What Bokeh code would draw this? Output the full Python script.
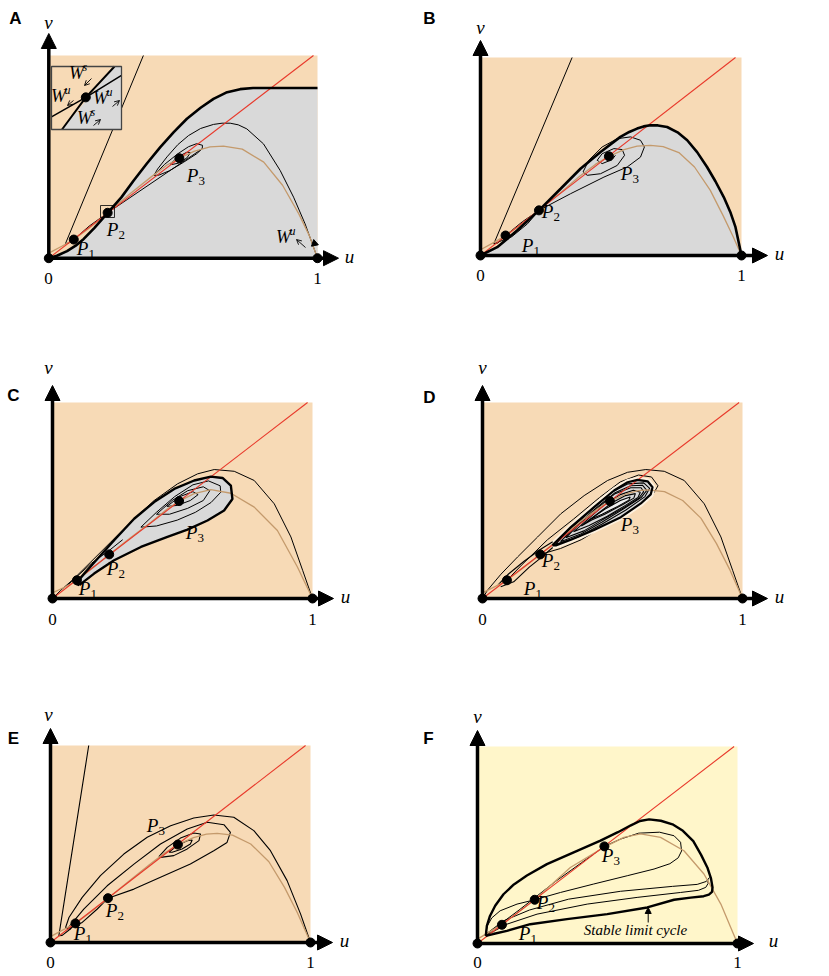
from bokeh.plotting import figure
from bokeh.layouts import column, row
from bokeh.models import Range1d, Arrow, NormalHead, OpenHead
from bokeh.core.properties import value
from bokeh.embed import file_html
from bokeh.resources import INLINE

# ====================== DATA (u, v phase-plane values) ======================
# ---- Panel A ----
A_fixed_u = [0.0, 0.093, 0.219, 0.486, 1.0]
A_fixed_v = [0.0, 0.092, 0.224, 0.493, 0.0]
A_red_u = [0.0, 0.985]
A_red_v = [0.0, 1.0]
A_bound_u = [0.0, 0.03, 0.068, 0.10, 0.130, 0.17, 0.219, 0.27, 0.316, 0.365, 0.415, 0.465, 0.514, 0.565, 0.613,
             0.66, 0.712, 0.76, 0.812, 1.0]
A_bound_v = [0.0, 0.012, 0.035, 0.062, 0.095, 0.15, 0.224, 0.30, 0.383, 0.467, 0.548, 0.622, 0.688, 0.742, 0.786,
             0.817, 0.834, 0.840, 0.840, 0.840]
A_tan_u = [0.0, 0.05, 0.093, 0.15, 0.219, 0.30, 0.38, 0.44, 0.486, 0.54, 0.60, 0.65, 0.72, 0.80, 0.87, 0.93, 0.97, 1.0]
A_tan_v = [0.025, 0.06, 0.092, 0.148, 0.224, 0.315, 0.40, 0.46, 0.493, 0.527, 0.549, 0.553, 0.538, 0.474, 0.36, 0.22, 0.11, 0.0]
A_sep_u = [0.352, 0.062, 0.075, 0.093, 0.15, 0.219]
A_sep_v = [1.0, 0.072, 0.075, 0.092, 0.158, 0.224]
A_wu_u = [1.0, 0.983, 0.954, 0.911, 0.861, 0.799, 0.737, 0.705, 0.675, 0.645, 0.613, 0.565, 0.52, 0.48, 0.44, 0.405, 0.391]
A_wu_v = [0.0, 0.0625, 0.169, 0.301, 0.433, 0.564, 0.638, 0.658, 0.666, 0.666, 0.660, 0.640, 0.605, 0.56, 0.50, 0.44, 0.408]
A_ring1_u = [0.391, 0.43, 0.48, 0.52, 0.55, 0.572, 0.571, 0.55, 0.50, 0.45, 0.41, 0.391]
A_ring1_v = [0.408, 0.462, 0.515, 0.550, 0.565, 0.557, 0.540, 0.515, 0.472, 0.432, 0.410, 0.408]
A_ring2_u = [0.452, 0.483, 0.514, 0.527, 0.514, 0.483, 0.458, 0.452]
A_ring2_v = [0.465, 0.502, 0.523, 0.521, 0.495, 0.469, 0.462, 0.465]
A_link_u = [0.219, 0.571]
A_link_v = [0.224, 0.540]

# ---- Panel B ----
B_fixed_u = [0.0, 0.096, 0.224, 0.492, 1.0]
B_fixed_v = [0.0, 0.101, 0.228, 0.501, 0.0]
B_red_u = [0.0, 0.977]
B_red_v = [0.0, 1.0]
B_bound_u = [0.0, 0.064, 0.140, 0.224, 0.307, 0.383, 0.460, 0.536, 0.570, 0.600, 0.625, 0.651, 0.680, 0.715,
             0.755, 0.792, 0.830, 0.868, 0.900, 0.932, 0.957, 0.977, 1.0]
B_bound_v = [0.0, 0.042, 0.126, 0.228, 0.337, 0.438, 0.523, 0.599, 0.624, 0.641, 0.652, 0.658, 0.657, 0.649,
             0.622, 0.582, 0.522, 0.447, 0.375, 0.295, 0.220, 0.143, 0.0]
B_tan_u = [0.0, 0.05, 0.096, 0.16, 0.224, 0.30, 0.38, 0.44, 0.492, 0.55, 0.60, 0.651, 0.70, 0.76, 0.82, 0.88, 0.93, 0.97, 1.0]
B_tan_v = [0.029, 0.065, 0.101, 0.16, 0.228, 0.31, 0.40, 0.46, 0.501, 0.535, 0.552, 0.556, 0.55, 0.52, 0.447, 0.33, 0.20, 0.09, 0.0]
B_sep_u = [0.351, 0.051, 0.065, 0.096, 0.16, 0.224]
B_sep_v = [1.0, 0.059, 0.062, 0.101, 0.17, 0.228]
B_lens_u = [0.051, 0.12, 0.18, 0.224]
B_lens_v = [0.059, 0.095, 0.16, 0.228]
B_spiral_u = [0.224, 0.345, 0.473, 0.562, 0.613, 0.628, 0.613, 0.575, 0.524, 0.466, 0.415, 0.393, 0.409, 0.460,
              0.524, 0.552, 0.543, 0.511, 0.466, 0.447, 0.466, 0.504, 0.517]
B_spiral_v = [0.228, 0.312, 0.396, 0.447, 0.497, 0.548, 0.582, 0.599, 0.590, 0.548, 0.481, 0.422, 0.405, 0.413,
              0.455, 0.506, 0.535, 0.540, 0.514, 0.481, 0.464, 0.484, 0.506]

# ---- Panel C ----
C_fixed_u = [0.0, 0.094, 0.218, 0.487, 1.0]
C_fixed_v = [0.0, 0.093, 0.225, 0.497, 0.0]
C_red_u = [0.0, 0.981]
C_red_v = [0.0, 1.0]
C_tan_u = [0.0, 0.05, 0.094, 0.15, 0.218, 0.30, 0.38, 0.44, 0.487, 0.545, 0.609, 0.686, 0.776, 0.865, 0.942, 1.0]
C_tan_v = [0.029, 0.06, 0.093, 0.15, 0.225, 0.31, 0.39, 0.455, 0.497, 0.535, 0.556, 0.537, 0.466, 0.347, 0.161, 0.0]
C_outer_u = [1.0, 0.962, 0.917, 0.853, 0.776, 0.699, 0.622, 0.558, 0.481, 0.391, 0.314, 0.224, 0.147, 0.083, 0.032, 0.0]
C_outer_v = [0.0, 0.144, 0.314, 0.483, 0.602, 0.649, 0.658, 0.636, 0.585, 0.500, 0.407, 0.288, 0.186, 0.102, 0.042, 0.0]
C_tear_u = [0.103, 0.160, 0.237, 0.340, 0.442, 0.519, 0.596, 0.660, 0.692, 0.686, 0.654, 0.609, 0.545, 0.468,
            0.391, 0.314, 0.237, 0.173, 0.122, 0.090, 0.103]
C_tear_v = [0.068, 0.127, 0.195, 0.263, 0.314, 0.351, 0.398, 0.449, 0.508, 0.576, 0.615, 0.622, 0.602, 0.559,
            0.492, 0.407, 0.297, 0.203, 0.127, 0.076, 0.068]
C_loop1_u = [0.340, 0.40, 0.47, 0.54, 0.60, 0.645, 0.647, 0.61, 0.55, 0.48, 0.40, 0.340]
C_loop1_v = [0.364, 0.44, 0.52, 0.58, 0.60, 0.575, 0.542, 0.49, 0.44, 0.40, 0.37, 0.364]
C_loop2_u = [0.40, 0.46, 0.52, 0.58, 0.605, 0.58, 0.52, 0.45, 0.40]
C_loop2_v = [0.43, 0.50, 0.55, 0.57, 0.55, 0.50, 0.46, 0.43, 0.43]
C_loop3_u = [0.44, 0.49, 0.54, 0.56, 0.53, 0.48, 0.44]
C_loop3_v = [0.47, 0.52, 0.545, 0.53, 0.50, 0.475, 0.47]
C_lens_u = [0.06, 0.094, 0.15, 0.218, 0.27]
C_lens_v = [0.07, 0.112, 0.18, 0.245, 0.30]

# ---- Panel D ----
D_fixed_u = [0.0, 0.094, 0.222, 0.490, 1.0]
D_fixed_v = [0.0, 0.093, 0.225, 0.497, 0.0]
D_red_u = [0.0, 0.987]
D_red_v = [0.0, 1.0]
D_tan_u = [0.0, 0.05, 0.094, 0.16, 0.222, 0.30, 0.38, 0.44, 0.490, 0.55, 0.60, 0.635, 0.70, 0.77, 0.84, 0.90, 0.95, 1.0]
D_tan_v = [0.029, 0.062, 0.093, 0.16, 0.225, 0.31, 0.395, 0.455, 0.497, 0.532, 0.55, 0.554, 0.545, 0.50, 0.41, 0.28, 0.15, 0.0]
D_outer_u = [1.0, 0.962, 0.917, 0.853, 0.776, 0.699, 0.628, 0.558, 0.481, 0.391, 0.301, 0.212, 0.135, 0.071, 0.019, 0.0]
D_outer_v = [0.0, 0.144, 0.314, 0.483, 0.602, 0.649, 0.658, 0.644, 0.602, 0.525, 0.432, 0.314, 0.212, 0.124, 0.042, 0.0]
D_wrap_u = [0.094, 0.15, 0.25, 0.35, 0.45, 0.53, 0.60, 0.65, 0.675, 0.655, 0.58, 0.48, 0.38, 0.30, 0.222]
D_wrap_v = [0.093, 0.17, 0.30, 0.405, 0.515, 0.595, 0.63, 0.62, 0.575, 0.53, 0.46, 0.38, 0.30, 0.255, 0.225]
D_tear_u = [0.269, 0.340, 0.429, 0.506, 0.558, 0.596, 0.635, 0.654, 0.647, 0.609, 0.532, 0.429, 0.340, 0.282, 0.269]
D_tear_v = [0.271, 0.364, 0.466, 0.551, 0.593, 0.605, 0.598, 0.568, 0.531, 0.485, 0.415, 0.350, 0.300, 0.271, 0.271]
D_loop1_u = [0.28, 0.35, 0.43, 0.50, 0.56, 0.62, 0.643, 0.625, 0.55, 0.46, 0.37, 0.28]
D_loop1_v = [0.275, 0.37, 0.465, 0.545, 0.585, 0.59, 0.562, 0.52, 0.45, 0.38, 0.315, 0.275]
D_loop2_u = [0.30, 0.36, 0.44, 0.51, 0.57, 0.615, 0.632, 0.61, 0.54, 0.46, 0.38, 0.30]
D_loop2_v = [0.29, 0.37, 0.465, 0.54, 0.575, 0.578, 0.552, 0.515, 0.455, 0.39, 0.33, 0.29]
D_loop3_u = [0.32, 0.38, 0.45, 0.51, 0.57, 0.61, 0.62, 0.60, 0.54, 0.46, 0.39, 0.32]
D_loop3_v = [0.31, 0.39, 0.47, 0.535, 0.565, 0.565, 0.545, 0.51, 0.46, 0.40, 0.345, 0.31]
D_loop4_u = [0.35, 0.41, 0.47, 0.53, 0.58, 0.607, 0.598, 0.55, 0.48, 0.41, 0.35]
D_loop4_v = [0.34, 0.41, 0.48, 0.53, 0.552, 0.542, 0.515, 0.475, 0.42, 0.372, 0.34]
D_loop5_u = [0.38, 0.44, 0.50, 0.55, 0.588, 0.582, 0.54, 0.47, 0.42, 0.38]
D_loop5_v = [0.37, 0.43, 0.49, 0.525, 0.535, 0.512, 0.48, 0.43, 0.40, 0.37]
D_loop6_u = [0.41, 0.47, 0.53, 0.568, 0.563, 0.52, 0.46, 0.41]
D_loop6_v = [0.40, 0.455, 0.50, 0.518, 0.502, 0.47, 0.43, 0.40]
D_lensU_u = [0.06, 0.10, 0.16, 0.222, 0.27]
D_lensU_v = [0.07, 0.125, 0.19, 0.25, 0.29]
D_lensL_u = [0.07, 0.12, 0.18, 0.222, 0.27]
D_lensL_v = [0.06, 0.085, 0.16, 0.205, 0.26]

# ---- Panel E ----
E_fixed_u = [0.0, 0.096, 0.221, 0.490, 1.0]
E_fixed_v = [0.0, 0.097, 0.225, 0.497, 0.0]
E_red_u = [0.0, 0.981]
E_red_v = [0.0, 1.0]
E_tan_u = [0.0, 0.05, 0.096, 0.16, 0.221, 0.30, 0.38, 0.44, 0.490, 0.55, 0.60, 0.641, 0.70, 0.77, 0.84, 0.90, 0.95, 1.0]
E_tan_v = [0.03, 0.065, 0.097, 0.16, 0.225, 0.31, 0.395, 0.455, 0.497, 0.532, 0.55, 0.554, 0.545, 0.50, 0.41, 0.28, 0.15, 0.0]
E_sep_u = [0.147, 0.032, 0.045, 0.070, 0.096]
E_sep_v = [1.0, 0.034, 0.036, 0.062, 0.097]
E_outer_u = [1.0, 0.962, 0.910, 0.846, 0.782, 0.705, 0.628, 0.551, 0.462, 0.372, 0.282, 0.192, 0.122, 0.071, 0.058, 0.075, 0.096]
E_outer_v = [0.0, 0.144, 0.314, 0.466, 0.568, 0.636, 0.647, 0.632, 0.593, 0.534, 0.449, 0.339, 0.229, 0.127, 0.076, 0.066, 0.097]
E_loop_u = [0.064, 0.128, 0.218, 0.321, 0.423, 0.526, 0.603, 0.667, 0.692, 0.679, 0.628, 0.538, 0.423, 0.321, 0.221]
E_loop_v = [0.068, 0.169, 0.288, 0.398, 0.500, 0.576, 0.610, 0.598, 0.559, 0.508, 0.466, 0.398, 0.331, 0.271, 0.225]
E_ring1_u = [0.417, 0.449, 0.500, 0.551, 0.577, 0.571, 0.526, 0.474, 0.423, 0.417]
E_ring1_v = [0.436, 0.483, 0.530, 0.556, 0.551, 0.517, 0.475, 0.441, 0.432, 0.436]
E_ring2_u = [0.455, 0.487, 0.526, 0.545, 0.538, 0.506, 0.468, 0.455]
E_ring2_v = [0.458, 0.492, 0.517, 0.520, 0.500, 0.475, 0.458, 0.458]
E_lensL_u = [0.064, 0.12, 0.18, 0.221]
E_lensL_v = [0.068, 0.10, 0.17, 0.225]

# ---- Panel F ----
F_fixed_u = [0.0, 0.094, 0.220, 0.488, 1.0]
F_fixed_v = [0.0, 0.095, 0.222, 0.493, 0.0]
F_red_u = [0.0, 0.987]
F_red_v = [0.0, 1.0]
F_tan_u = [0.0, 0.100, 0.220, 0.357, 0.486, 0.563, 0.627, 0.704, 0.794, 0.871, 0.936, 0.974, 1.0]
F_tan_v = [0.022, 0.102, 0.222, 0.386, 0.488, 0.539, 0.556, 0.539, 0.471, 0.353, 0.200, 0.081, 0.0]
F_cycle_u = [0.032, 0.036, 0.048, 0.068, 0.100, 0.140, 0.190, 0.267, 0.370, 0.473, 0.540, 0.590, 0.625, 0.660,
             0.705, 0.750, 0.790, 0.830, 0.860, 0.884, 0.898, 0.904, 0.902, 0.890, 0.870, 0.820, 0.756, 0.653,
             0.499, 0.344, 0.203, 0.113, 0.060, 0.032]
F_cycle_v = [0.039, 0.090, 0.140, 0.192, 0.250, 0.300, 0.345, 0.403, 0.463, 0.522, 0.565, 0.600, 0.622, 0.630,
             0.623, 0.605, 0.572, 0.520, 0.450, 0.386, 0.330, 0.285, 0.262, 0.248, 0.240, 0.233, 0.222, 0.183,
             0.149, 0.124, 0.098, 0.064, 0.048, 0.039]
F_t1_u = [0.220, 0.319, 0.447, 0.576, 0.679, 0.740, 0.772, 0.785, 0.781, 0.756, 0.70, 0.62, 0.55, 0.488]
F_t1_v = [0.222, 0.259, 0.302, 0.344, 0.378, 0.405, 0.435, 0.470, 0.514, 0.547, 0.565, 0.56, 0.53, 0.493]
F_t2_u = [0.220, 0.152, 0.087, 0.055, 0.038, 0.030]
F_t2_v = [0.222, 0.200, 0.166, 0.130, 0.090, 0.047]
F_t3_u = [0.030, 0.113, 0.229, 0.422, 0.614, 0.781, 0.850, 0.878, 0.887, 0.885]
F_t3_v = [0.039, 0.098, 0.149, 0.200, 0.234, 0.259, 0.270, 0.285, 0.305, 0.327]
F_t4_u = [0.030, 0.094, 0.16, 0.220, 0.30, 0.40, 0.488]
F_t4_v = [0.039, 0.105, 0.17, 0.232, 0.315, 0.41, 0.493]
F_t5_u = [0.030, 0.10, 0.20, 0.35, 0.55, 0.75, 0.845, 0.880, 0.892]
F_t5_v = [0.045, 0.115, 0.17, 0.225, 0.265, 0.29, 0.300, 0.315, 0.335]

# Inset of panel A (local 0..1 box coordinates)
INSET_gray_x = [0.15, 0.90, 1.0, 1.0]
INSET_gray_y = [0.0, 1.0, 1.0, 0.0]
INSET_ws_x = [0.15, 0.49, 0.90]
INSET_ws_y = [0.0, 0.51, 1.0]
INSET_wu_x = [0.0, 0.49, 1.0]
INSET_wu_y = [0.20, 0.51, 0.86]

# ====================== LAYOUT ======================
PEACH = "#F7DAB6"
YELLOW = "#FFF6CA"
GRAY = "#D9D9D9"
RED = "#E8392B"
TAN = "#C49A6C"
SERIF = "Liberation Serif"
SANS = "Liberation Sans"

# figure placement on the page (x, y, w, h) in reference pixels
FIG = {'A': (0, 0, 418, 348), 'B': (418, 0, 411, 348),
       'C': (0, 348, 418, 338), 'D': (418, 348, 411, 338),
       'E': (0, 686, 418, 290), 'F': (418, 686, 411, 290)}
# panel geometry: pixel of origin, pixel width of u=1, pixel height of v=1
GEOM = {'A': (48.3, 257.7, 268.7, 202.7), 'B': (480, 255, 261, 198),
        'C': (52, 598, 260, 196), 'D': (482, 598, 260, 196),
        'E': (50, 942, 260, 197), 'F': (477, 943, 260, 197)}
# decoration positions (pixels)
DECO = {
    'A': dict(vtip=33, utip=338, vlab=(48, 22), ulab=(349, 256), zero=(48, 278), one=(317, 278), letter=(15, 18),
              P=[(86, 248), (116, 229), (196, 175)]),
    'B': dict(vtip=40, utip=767, vlab=(480, 27), ulab=(779, 253), zero=(480, 275), one=(741, 275), letter=(429, 18),
              P=[(531, 245), (551, 211), (630, 173)]),
    'C': dict(vtip=385, utip=333, vlab=(48, 367), ulab=(345, 596), zero=(52, 619), one=(312, 619), letter=(13, 395),
              P=[(88, 588), (116, 568), (195, 532)]),
    'D': dict(vtip=385, utip=767, vlab=(482, 367), ulab=(779, 596), zero=(482, 619), one=(742, 619), letter=(429, 397),
              P=[(533, 588), (551, 560), (630, 524)]),
    'E': dict(vtip=728, utip=332, vlab=(48, 714), ulab=(344, 940), zero=(50, 962), one=(310, 962), letter=(13, 738),
              P=[(83, 933), (115, 910), (156, 825)]),
    'F': dict(vtip=730, utip=753, vlab=(477, 716), ulab=(773, 940), zero=(477, 962), one=(737, 962), letter=(428, 738),
              P=[(528, 933), (546, 902), (611, 855)]),
}


def to_uv(key, x, y):
    ox, oy, W, H = GEOM[key]
    return (x - ox) / W, (oy - y) / H


def make_fig(key, bg):
    fx, fy, fw, fh = FIG[key]
    ox, oy, W, H = GEOM[key]
    p = figure(width=fw, height=fh,
               x_range=Range1d((fx - ox) / W, (fx + fw - ox) / W),
               y_range=Range1d((oy - fy - fh) / H, (oy - fy) / H),
               x_axis_type=None, y_axis_type=None, toolbar_location=None,
               output_backend="svg", min_border=0, outline_line_color=None)
    p.background_fill_color = "white"
    p.border_fill_color = "white"
    p.quad(left=0, right=1, bottom=0, top=1, fill_color=bg, line_color=None)
    return p


def txt(p, key, x, y, s, size="16px", font=SERIF, style="normal", align="center", xo=0, yo=0):
    u, v = to_uv(key, x, y)
    p.text(x=[u], y=[v], text=[s], text_font=value(font), text_font_size=size, text_font_style=style,
           text_align=align, text_baseline="middle", x_offset=xo, y_offset=yo, text_color="black")


def sub_label(p, key, x, y, main, sub, size=19, sup=False):
    txt(p, key, x - 4, y, main, size="%dpx" % size, style="italic", align="center")
    txt(p, key, x + 2, y + (-6 if sup else 5), sub, size="%dpx" % int(size * 0.7),
        style="italic" if sup else "normal", align="left")


def nullclines(p, red_u, red_v, tan_u, tan_v):
    p.line(tan_u, tan_v, line_color=TAN, line_width=1.3)
    p.line(red_u, red_v, line_color=RED, line_width=1.1)


def axes_and_labels(p, key, fixed_u, fixed_v):
    d = DECO[key]
    ox, oy, W, H = GEOM[key]
    ut = (d['utip'] - ox) / W
    vt = (oy - d['vtip']) / H
    p.add_layout(Arrow(end=NormalHead(size=15, fill_color="black", line_color="black", line_width=1),
                       x_start=0, y_start=0, x_end=ut, y_end=0, line_width=3.5, line_color="black"))
    p.add_layout(Arrow(end=NormalHead(size=15, fill_color="black", line_color="black", line_width=1),
                       x_start=0, y_start=0, x_end=0, y_end=vt, line_width=3.5, line_color="black"))
    p.scatter(fixed_u, fixed_v, size=9, color="black")
    txt(p, key, *d['vlab'], "v", size="19px", style="italic")
    txt(p, key, *d['ulab'], "u", size="19px", style="italic")
    txt(p, key, *d['zero'], "0", size="17px")
    txt(p, key, *d['one'], "1", size="17px")
    txt(p, key, *d['letter'], key, size="17px", font=SANS, style="bold")
    for i, (x, y) in enumerate(d['P']):
        sub_label(p, key, x, y, "P", str(i + 1))


# ---------------- Panel A ----------------
pA = make_fig('A', PEACH)
pA.patch(A_bound_u + [1.0, 0.0], A_bound_v + [0.0, 0.0], fill_color=GRAY, line_color=None)
pA.line(A_sep_u, A_sep_v, line_color="black", line_width=1)
pA.line(A_wu_u, A_wu_v, line_color="black", line_width=1)
pA.line(A_ring1_u, A_ring1_v, line_color="black", line_width=1)
pA.line(A_ring2_u, A_ring2_v, line_color="black", line_width=1)
pA.line(A_link_u, A_link_v, line_color="black", line_width=1)
nullclines(pA, A_red_u, A_red_v, A_tan_u, A_tan_v)
pA.line(A_bound_u, A_bound_v, line_color="black", line_width=2.6)
# small box around P2
b0 = to_uv('A', 100, 217)
b1 = to_uv('A', 114, 205)
pA.quad(left=b0[0], right=b1[0], bottom=b0[1], top=b1[1], fill_color=None, line_color="black", line_width=0.8)
# inset
i0 = to_uv('A', 51, 129)
i1 = to_uv('A', 121, 66)


def inset_map(xs, ys):
    return ([i0[0] + x * (i1[0] - i0[0]) for x in xs], [i0[1] + y * (i1[1] - i0[1]) for y in ys])


pA.quad(left=i0[0], right=i1[0], bottom=i0[1], top=i1[1], fill_color=PEACH, line_color=None)
gx, gy = inset_map(INSET_gray_x, INSET_gray_y)
pA.patch(gx, gy, fill_color=GRAY, line_color=None)
wx, wy = inset_map(INSET_ws_x, INSET_ws_y)
pA.line(wx, wy, line_color="black", line_width=2)
wx2, wy2 = inset_map(INSET_wu_x, INSET_wu_y)
pA.line(wx2, wy2, line_color="black", line_width=1.5)
dx, dy = inset_map([0.49], [0.51])
pA.scatter(dx, dy, size=9, color="black")
pA.quad(left=i0[0], right=i1[0], bottom=i0[1], top=i1[1], fill_color=None, line_color="#444444", line_width=1.3)
sub_label(pA, 'A', 80, 72, "W", "s", size=18, sup=True)
sub_label(pA, 'A', 62, 95, "W", "u", size=18, sup=True)
sub_label(pA, 'A', 104, 97, "W", "u", size=18, sup=True)
sub_label(pA, 'A', 88, 117, "W", "s", size=18, sup=True)
for (xs, ys, xe, ye) in [(91, 78, 84, 85), (73, 100, 67, 105), (112, 106, 119, 100), (93, 125, 100, 119),
                         (305, 247, 296, 239)]:
    s = to_uv('A', xs, ys)
    e = to_uv('A', xe, ye)
    pA.add_layout(Arrow(end=OpenHead(size=5, line_width=0.9), x_start=s[0], y_start=s[1], x_end=e[0], y_end=e[1],
                        line_width=0.9))
sub_label(pA, 'A', 287, 236, "W", "u", size=18, sup=True)
ah = to_uv('A', 314, 243)
pA.scatter([ah[0]], [ah[1]], marker="triangle", size=7, color="black", angle=0.2)
axes_and_labels(pA, 'A', A_fixed_u, A_fixed_v)

# ---------------- Panel B ----------------
pB = make_fig('B', PEACH)
pB.patch(B_bound_u, B_bound_v, fill_color=GRAY, line_color=None)
pB.line(B_sep_u, B_sep_v, line_color="black", line_width=1)
pB.line(B_lens_u, B_lens_v, line_color="black", line_width=1)
pB.line(B_spiral_u, B_spiral_v, line_color="black", line_width=1)
nullclines(pB, B_red_u, B_red_v, B_tan_u, B_tan_v)
pB.line(B_bound_u, B_bound_v, line_color="black", line_width=2.6)
axes_and_labels(pB, 'B', B_fixed_u, B_fixed_v)

# ---------------- Panel C ----------------
pC = make_fig('C', PEACH)
pC.line(C_outer_u, C_outer_v, line_color="black", line_width=1)
pC.patch(C_tear_u, C_tear_v, fill_color=GRAY, line_color=None)
for lu, lv in [(C_loop1_u, C_loop1_v), (C_loop2_u, C_loop2_v), (C_loop3_u, C_loop3_v), (C_lens_u, C_lens_v)]:
    pC.line(lu, lv, line_color="black", line_width=1)
nullclines(pC, C_red_u, C_red_v, C_tan_u, C_tan_v)
pC.line(C_tear_u, C_tear_v, line_color="black", line_width=2.4)
axes_and_labels(pC, 'C', C_fixed_u, C_fixed_v)

# ---------------- Panel D ----------------
pD = make_fig('D', PEACH)
pD.line(D_outer_u, D_outer_v, line_color="black", line_width=1)
pD.line(D_wrap_u, D_wrap_v, line_color="black", line_width=1)
pD.line(D_tear_u, D_tear_v, line_color="#FDF1DF", line_width=6)
pD.patch(D_tear_u, D_tear_v, fill_color=GRAY, line_color=None)
pD.patch(D_loop6_u, D_loop6_v, fill_color="#EEEEEE", line_color=None)
for lu, lv in [(D_loop1_u, D_loop1_v), (D_loop2_u, D_loop2_v), (D_loop3_u, D_loop3_v), (D_loop4_u, D_loop4_v),
               (D_loop5_u, D_loop5_v), (D_loop6_u, D_loop6_v), (D_lensU_u, D_lensU_v), (D_lensL_u, D_lensL_v)]:
    pD.line(lu, lv, line_color="black", line_width=1.1)
nullclines(pD, D_red_u, D_red_v, D_tan_u, D_tan_v)
pD.line(D_tear_u, D_tear_v, line_color="black", line_width=2.2)
axes_and_labels(pD, 'D', D_fixed_u, D_fixed_v)

# ---------------- Panel E ----------------
pE = make_fig('E', PEACH)
for lu, lv in [(E_sep_u, E_sep_v), (E_outer_u, E_outer_v), (E_loop_u, E_loop_v), (E_ring1_u, E_ring1_v),
               (E_ring2_u, E_ring2_v), (E_lensL_u, E_lensL_v)]:
    pE.line(lu, lv, line_color="black", line_width=1.1)
nullclines(pE, E_red_u, E_red_v, E_tan_u, E_tan_v)
axes_and_labels(pE, 'E', E_fixed_u, E_fixed_v)

# ---------------- Panel F ----------------
pF = make_fig('F', YELLOW)
for lu, lv in [(F_t1_u, F_t1_v), (F_t2_u, F_t2_v), (F_t3_u, F_t3_v), (F_t4_u, F_t4_v), (F_t5_u, F_t5_v)]:
    pF.line(lu, lv, line_color="black", line_width=1)
nullclines(pF, F_red_u, F_red_v, F_tan_u, F_tan_v)
pF.line(F_cycle_u, F_cycle_v, line_color="black", line_width=2.4)
txt(pF, 'F', 635, 929, "Stable limit cycle", size="15px", style="italic")
s = to_uv('F', 647.7, 922)
e = to_uv('F', 647.7, 907)
pF.add_layout(Arrow(end=NormalHead(size=6, fill_color="black", line_color="black"), x_start=s[0], y_start=s[1],
                    x_end=e[0], y_end=e[1], line_width=1))
axes_and_labels(pF, 'F', F_fixed_u, F_fixed_v)

layout = column(row(pA, pB), row(pC, pD), row(pE, pF))
open("out.html", "w").write(file_html(layout, INLINE))
